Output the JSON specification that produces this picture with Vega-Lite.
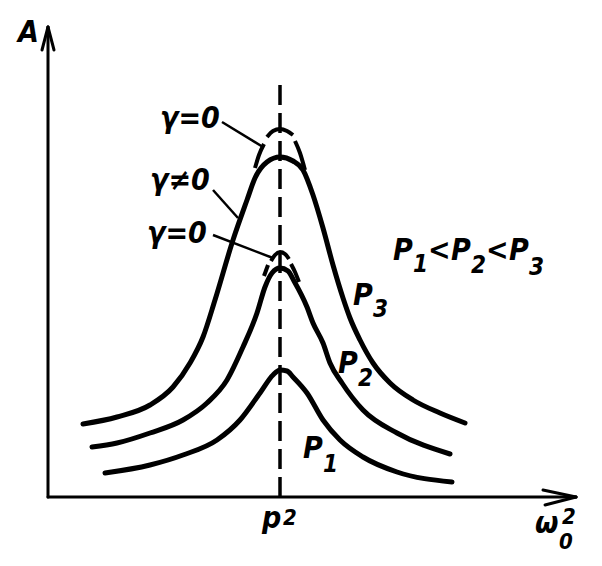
{
  "$schema": "https://vega.github.io/schema/vega-lite/v6.json",
  "width": 602,
  "height": 566,
  "autosize": {"type": "fit", "contains": "padding"},
  "padding": 0,
  "background": "white",
  "config": {"view": {"stroke": null}},
  "datasets": {
    "curves": [
      {"series": "P3", "x": 0.35, "y": 0.73}, {"series": "P3", "x": 0.69, "y": 0.80}, {"series": "P3", "x": 1.02, "y": 0.92},
      {"series": "P3", "x": 1.25, "y": 1.10}, {"series": "P3", "x": 1.42, "y": 1.34}, {"series": "P3", "x": 1.55, "y": 1.60},
      {"series": "P3", "x": 1.67, "y": 1.97}, {"series": "P3", "x": 1.85, "y": 2.57}, {"series": "P3", "x": 1.99, "y": 2.97},
      {"series": "P3", "x": 2.07, "y": 3.19}, {"series": "P3", "x": 2.19, "y": 3.35}, {"series": "P3", "x": 2.32, "y": 3.40},
      {"series": "P3", "x": 2.45, "y": 3.36}, {"series": "P3", "x": 2.55, "y": 3.27}, {"series": "P3", "x": 2.65, "y": 3.02},
      {"series": "P3", "x": 2.75, "y": 2.69}, {"series": "P3", "x": 2.85, "y": 2.32}, {"series": "P3", "x": 2.95, "y": 1.99},
      {"series": "P3", "x": 3.02, "y": 1.79}, {"series": "P3", "x": 3.12, "y": 1.57}, {"series": "P3", "x": 3.25, "y": 1.34},
      {"series": "P3", "x": 3.42, "y": 1.14}, {"series": "P3", "x": 3.65, "y": 0.97}, {"series": "P3", "x": 3.92, "y": 0.84},
      {"series": "P3", "x": 4.17, "y": 0.74},
      {"series": "P2", "x": 0.44, "y": 0.50}, {"series": "P2", "x": 0.69, "y": 0.54}, {"series": "P2", "x": 1.02, "y": 0.64},
      {"series": "P2", "x": 1.35, "y": 0.77}, {"series": "P2", "x": 1.59, "y": 0.94}, {"series": "P2", "x": 1.79, "y": 1.17},
      {"series": "P2", "x": 1.95, "y": 1.50}, {"series": "P2", "x": 2.09, "y": 1.84}, {"series": "P2", "x": 2.17, "y": 2.10},
      {"series": "P2", "x": 2.24, "y": 2.24}, {"series": "P2", "x": 2.32, "y": 2.29}, {"series": "P2", "x": 2.40, "y": 2.26},
      {"series": "P2", "x": 2.46, "y": 2.16}, {"series": "P2", "x": 2.59, "y": 1.90}, {"series": "P2", "x": 2.65, "y": 1.74},
      {"series": "P2", "x": 2.75, "y": 1.54}, {"series": "P2", "x": 2.82, "y": 1.34}, {"series": "P2", "x": 2.94, "y": 1.14},
      {"series": "P2", "x": 3.15, "y": 0.87}, {"series": "P2", "x": 3.49, "y": 0.64}, {"series": "P2", "x": 4.02, "y": 0.43},
      {"series": "P1", "x": 0.57, "y": 0.24}, {"series": "P1", "x": 1.02, "y": 0.32}, {"series": "P1", "x": 1.35, "y": 0.42},
      {"series": "P1", "x": 1.69, "y": 0.57}, {"series": "P1", "x": 1.92, "y": 0.77}, {"series": "P1", "x": 2.12, "y": 1.04},
      {"series": "P1", "x": 2.25, "y": 1.22}, {"series": "P1", "x": 2.32, "y": 1.27}, {"series": "P1", "x": 2.39, "y": 1.26},
      {"series": "P1", "x": 2.45, "y": 1.20}, {"series": "P1", "x": 2.59, "y": 1.04}, {"series": "P1", "x": 2.75, "y": 0.77},
      {"series": "P1", "x": 2.92, "y": 0.57}, {"series": "P1", "x": 3.15, "y": 0.40}, {"series": "P1", "x": 3.49, "y": 0.25},
      {"series": "P1", "x": 4.04, "y": 0.15}
    ],
    "caps": [
      {"series": "g3a", "x": 2.07, "y": 3.29}, {"series": "g3a", "x": 2.11, "y": 3.42}, {"series": "g3a", "x": 2.16, "y": 3.53},
      {"series": "g3b", "x": 2.19, "y": 3.60}, {"series": "g3b", "x": 2.25, "y": 3.66}, {"series": "g3b", "x": 2.32, "y": 3.68},
      {"series": "g3b", "x": 2.39, "y": 3.66}, {"series": "g3b", "x": 2.45, "y": 3.62},
      {"series": "g3c", "x": 2.47, "y": 3.56}, {"series": "g3c", "x": 2.52, "y": 3.44}, {"series": "g3c", "x": 2.57, "y": 3.27},
      {"series": "g2a", "x": 2.16, "y": 2.21}, {"series": "g2a", "x": 2.20, "y": 2.32},
      {"series": "g2b", "x": 2.23, "y": 2.36}, {"series": "g2b", "x": 2.27, "y": 2.42}, {"series": "g2b", "x": 2.32, "y": 2.45},
      {"series": "g2b", "x": 2.37, "y": 2.43}, {"series": "g2b", "x": 2.41, "y": 2.38},
      {"series": "g2c", "x": 2.43, "y": 2.33}, {"series": "g2c", "x": 2.47, "y": 2.25}, {"series": "g2c", "x": 2.51, "y": 2.15}
    ],
    "resonance": [{"x": 2.32, "y": 0, "y2": 4.14}],
    "axes": [
      {"x": 0, "y": 0, "x2": 0, "y2": 4.70},
      {"x": 0, "y": 0, "x2": 5.28, "y2": 0},
      {"x": 0, "y": 4.70, "x2": -0.06, "y2": 4.47},
      {"x": 0, "y": 4.70, "x2": 0.06, "y2": 4.47},
      {"x": 5.28, "y": 0, "x2": 4.95, "y2": 0.07},
      {"x": 5.28, "y": 0, "x2": 4.97, "y2": -0.08}
    ],
    "leaders": [
      {"x": 1.74, "y": 3.75, "x2": 2.15, "y2": 3.50},
      {"x": 1.65, "y": 3.07, "x2": 1.90, "y2": 2.79},
      {"x": 1.65, "y": 2.62, "x2": 2.25, "y2": 2.39}
    ],
    "labels": [
      {"label": "A", "x": -0.30, "y": 4.55},
      {"label": "γ=0", "x": 1.12, "y": 3.69},
      {"label": "γ≠0", "x": 1.02, "y": 3.07},
      {"label": "γ=0", "x": 0.99, "y": 2.54},
      {"label": "p", "x": 2.14, "y": -0.31},
      {"label": "ω", "x": 4.87, "y": -0.36}
    ],
    "plabels": [
      {"label": "P", "x": 3.45, "y": 2.37},
      {"label": "<", "x": 3.80, "y": 2.37},
      {"label": "P", "x": 4.03, "y": 2.37},
      {"label": "<", "x": 4.38, "y": 2.37},
      {"label": "P", "x": 4.61, "y": 2.37},
      {"label": "P", "x": 3.05, "y": 1.92},
      {"label": "P", "x": 2.90, "y": 1.24},
      {"label": "P", "x": 2.55, "y": 0.39}
    ],
    "psubs": [
      {"label": "1", "x": 3.65, "y": 2.25},
      {"label": "2", "x": 4.23, "y": 2.24},
      {"label": "3", "x": 4.81, "y": 2.22},
      {"label": "3", "x": 3.25, "y": 1.80},
      {"label": "2", "x": 3.10, "y": 1.11},
      {"label": "1", "x": 2.75, "y": 0.25}
    ],
    "powers": [
      {"label": "2", "x": 2.35, "y": -0.28},
      {"label": "2", "x": 5.14, "y": -0.27},
      {"label": "0", "x": 5.11, "y": -0.52}
    ]
  },
  "encoding": {
    "x": {"field": "x", "type": "quantitative", "scale": {"domain": [-0.48, 5.54], "nice": false, "zero": false}, "axis": null},
    "y": {"field": "y", "type": "quantitative", "scale": {"domain": [-0.69, 4.97], "nice": false, "zero": false}, "axis": null}
  },
  "layer": [
    {
      "data": {"name": "resonance"},
      "mark": {"type": "rule", "color": "black", "strokeWidth": 3.5, "strokeDash": [20, 8]},
      "encoding": {"y2": {"field": "y2"}}
    },
    {
      "data": {"name": "axes"},
      "mark": {"type": "rule", "color": "black", "strokeWidth": 3, "strokeCap": "round"},
      "encoding": {"x2": {"field": "x2"}, "y2": {"field": "y2"}}
    },
    {
      "data": {"name": "leaders"},
      "mark": {"type": "rule", "color": "black", "strokeWidth": 2.5},
      "encoding": {"x2": {"field": "x2"}, "y2": {"field": "y2"}}
    },
    {
      "data": {"name": "curves"},
      "mark": {"type": "line", "interpolate": "monotone", "color": "black", "strokeWidth": 5, "strokeCap": "round"},
      "encoding": {"detail": {"field": "series"}}
    },
    {
      "data": {"name": "caps"},
      "mark": {"type": "line", "interpolate": "monotone", "color": "black", "strokeWidth": 4},
      "encoding": {"detail": {"field": "series"}}
    },
    {
      "data": {"name": "labels"},
      "mark": {"type": "text", "align": "left", "baseline": "alphabetic", "font": "DejaVu Sans Condensed, Liberation Sans Narrow, DejaVu Sans, sans-serif", "fontStyle": "italic", "fontWeight": "bold", "fontSize": 30, "color": "black"},
      "encoding": {"text": {"field": "label"}}
    },
    {
      "data": {"name": "plabels"},
      "mark": {"type": "text", "align": "left", "baseline": "alphabetic", "font": "DejaVu Sans Condensed, Liberation Sans Narrow, DejaVu Sans, sans-serif", "fontStyle": "italic", "fontWeight": "bold", "fontSize": 30, "color": "black"},
      "encoding": {"text": {"field": "label"}}
    },
    {
      "data": {"name": "psubs"},
      "mark": {"type": "text", "align": "left", "baseline": "alphabetic", "font": "DejaVu Sans Condensed, Liberation Sans Narrow, DejaVu Sans, sans-serif", "fontStyle": "italic", "fontWeight": "bold", "fontSize": 24, "color": "black"},
      "encoding": {"text": {"field": "label"}}
    },
    {
      "data": {"name": "powers"},
      "mark": {"type": "text", "align": "left", "baseline": "alphabetic", "font": "DejaVu Sans Condensed, Liberation Sans Narrow, DejaVu Sans, sans-serif", "fontStyle": "italic", "fontWeight": "bold", "fontSize": 22, "color": "black"},
      "encoding": {"text": {"field": "label"}}
    }
  ]
}
